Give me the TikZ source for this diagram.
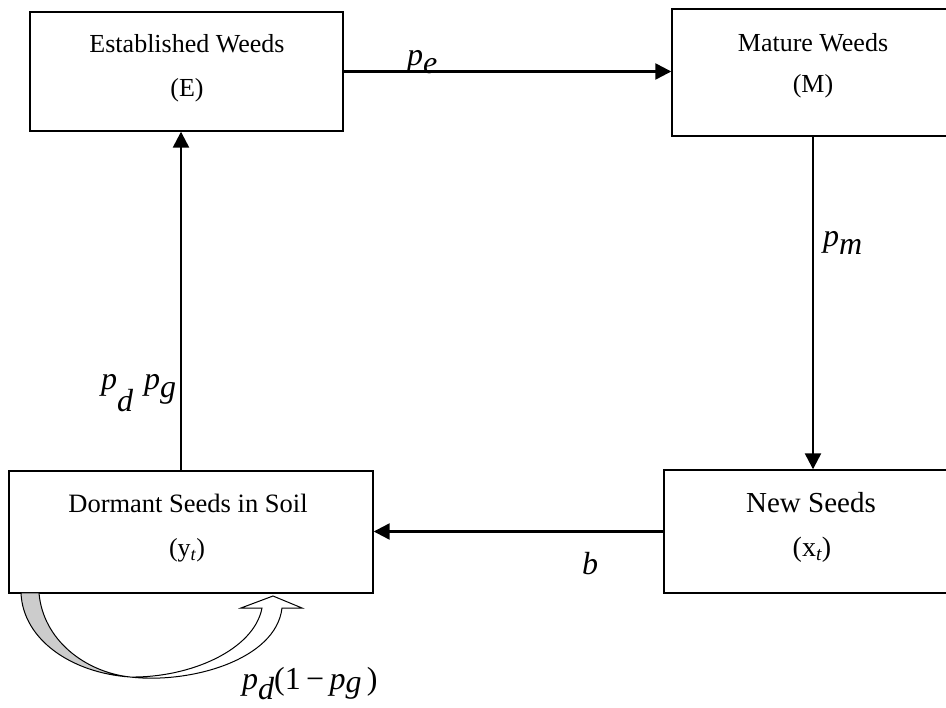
\documentclass[tikz,border=0pt]{standalone}
\usepackage{fontspec}
\setmainfont{Liberation Serif}
\usetikzlibrary{arrows.meta}

\tikzset{
  box/.style={draw, line width=1.4pt, inner sep=0pt},
  txt/.style={anchor=base, inner sep=0pt, font=\fontsize{26}{30}\selectfont},
  mlbl/.style={anchor=base west, inner sep=0pt, font=\fontsize{32}{36}\selectfont\itshape},
  arr/.style={line width=2.4pt, -{Triangle[length=16pt,width=16pt]}}
}
\newcommand{\lowsub}[1]{\raisebox{-8pt}{#1}}
\newcommand{\deepsub}[1]{\raisebox{-22pt}{#1}}

\begin{document}
\begin{tikzpicture}[x=1pt,y=-1pt]
  \useasboundingbox (0,0) rectangle (946,708);
  % the four stages
  \node[box, minimum width=313pt, minimum height=119pt] (E) at (186.5,71.5) {};
  \node[box, minimum width=282pt, minimum height=127pt] (M) at (813,72.5) {};
  \node[box, minimum width=294pt, minimum height=123pt] (N) at (811,531.5) {};
  \node[box, minimum width=364pt, minimum height=122pt] (D) at (191,532) {};
  \node[txt] (Ename) at (187,53) {Established Weeds};
  \node[txt] (Esym) at (187,97) {(E)};
  \node[txt] (Mname) at (813,52) {Mature Weeds};
  \node[txt] (Msym) at (813,93) {(M)};
  \node[txt, font=\fontsize{29}{32}\selectfont] (Nname) at (811,513) {New Seeds};
  \node[txt, font=\fontsize{28}{32}\selectfont] (Nsym) at (812,557) {(x\textsubscript{\itshape t})};
  \node[txt, font=\fontsize{26.5}{30}\selectfont] (Dname) at (188,513) {Dormant Seeds in Soil};
  \node[txt] (Dsym) at (187,557) {(y\textsubscript{\itshape t})};
  % transitions
  \draw[arr] (E.east) -- (E.east -| M.west);
  \draw[arr] (M.south) -- (M.south |- N.north);
  \draw[arr] (N.west) -- (N.west -| D.east);
  \draw[arr] ([xshift=-5.5pt]E.south |- D.north) -- ([xshift=-5.5pt]E.south);
  \node[mlbl] (pe) at (407,66) {p\lowsub{e}};
  \node[mlbl] (pm) at (823,247) {p\lowsub{m}};
  \node[mlbl] (pdpg) at (101,390) {p\deepsub{d}\hspace{11pt}p\lowsub{g}};
  \node[mlbl] (bl) at (582,575) {b};
  \node[mlbl] (stay) at (242,689) {p\raisebox{-10pt}{d}\upshape(1\,−\,\itshape p\raisebox{-3pt}{g}\,\upshape)};
  % curved arrow back into the soil
  \filldraw[fill=black!20, line width=1pt] (21,593) -- (39,593)
    .. controls (43,640) and (85,672) .. (130,677)
    .. controls (72,673) and (23,640) .. (21,593) -- cycle;
  \filldraw[fill=white, line width=1pt] (130,677)
    .. controls (190,684) and (276,660) .. (282,608) -- (302,608) -- (273,596)
    -- (241,608) -- (262,608)
    .. controls (254,650) and (190,678) .. (130,677) -- cycle;
\end{tikzpicture}
\end{document}
